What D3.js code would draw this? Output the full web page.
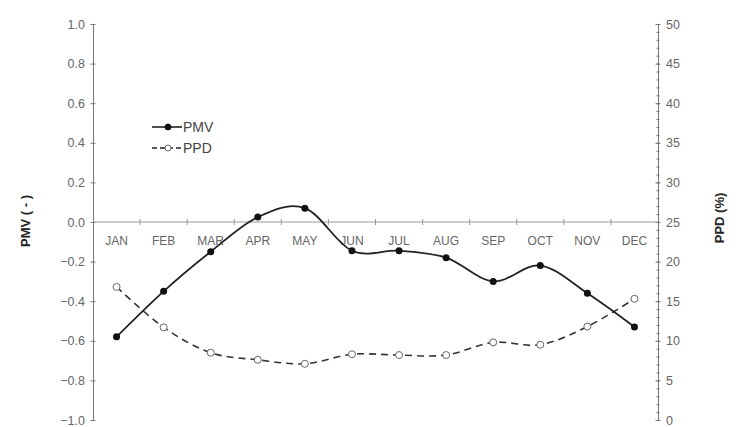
<!DOCTYPE html>
<html><head><meta charset="utf-8">
<script src="https://cdn.jsdelivr.net/npm/d3@7"></script>
<style>body{margin:0;background:#fff}svg{display:block}text{font-family:Arial,"Liberation Sans",sans-serif}</style>
</head><body><svg id="c" width="740" height="427"></svg>
<script>
const months = ["JAN","FEB","MAR","APR","MAY","JUN","JUL","AUG","SEP","OCT","NOV","DEC"];
const pmv = [-0.58,-0.35,-0.15,0.025,0.07,-0.145,-0.145,-0.18,-0.30,-0.22,-0.36,-0.53];
const ppd = [16.8,11.7,8.5,7.6,7.1,8.3,8.2,8.2,9.8,9.5,11.8,15.3];
const pmvTicks = [-1.0,-0.8,-0.6,-0.4,-0.2,0.0,0.2,0.4,0.6,0.8,1.0];
const ppdTicks = [0,5,10,15,20,25,30,35,40,45,50];

const svg = d3.select("#c");
const L = 93, R = 658, T = 24, B = 420;
const x = d3.scaleBand().domain(months).range([L, R]);
const yL = d3.scaleLinear().domain([-1, 1]).range([B, T]);
const yR = d3.scaleLinear().domain([0, 50]).range([B, T]);
const grey = "#777", txt = "#666";

// left axis
const ax = d3.axisLeft(yL).tickValues(pmvTicks).tickFormat(d3.format(".1f")).tickSize(5).tickSizeOuter(0);
const gL = svg.append("g").attr("transform", `translate(${L},0)`).call(ax);
gL.selectAll("line").attr("transform","translate(2.5,0)");
// right axis minor ticks
const gR = svg.append("g").attr("transform", `translate(${R},0)`)
  .call(d3.axisRight(yR).tickValues(d3.range(0, 51, 1)).tickFormat("").tickSize(3).tickSizeOuter(0));
gR.selectAll("line").attr("transform","translate(-1.5,0)");
const gR2 = svg.append("g").attr("transform", `translate(${R},0)`)
  .call(d3.axisRight(yR).tickValues(ppdTicks).tickSize(5).tickSizeOuter(0));
gR2.select(".domain").remove();
gR2.selectAll("line").attr("transform","translate(-2.5,0)");
[gL, gR, gR2].forEach(g => {
  g.selectAll(".domain").attr("stroke", grey);
  g.selectAll("line").attr("stroke", grey);
  g.selectAll("text").attr("fill", txt).style("font-size", "12.5px");
});

// category axis at zero
const gX = svg.append("g").attr("transform", `translate(0,${yL(0)})`);
gX.append("line").attr("x1", L).attr("x2", R).attr("stroke", "#999");
const bounds = months.map(m => x(m)).slice(1);
gX.selectAll(".tk").data(bounds).join("line").attr("x1", d => d).attr("x2", d => d)
  .attr("y1", -3).attr("y2", 3).attr("stroke", "#999");
gX.selectAll(".lb").data(months).join("text")
  .attr("x", d => x(d) + x.bandwidth() / 2).attr("y", 23).attr("text-anchor", "middle")
  .attr("fill", txt).style("font-size", "12px").text(d => d);

const cx = d => x(d) + x.bandwidth() / 2;
const curve = d3.curveCatmullRom.alpha(0);

// PPD dashed
svg.append("path").datum(ppd).attr("fill", "none").attr("stroke", "#333").attr("stroke-width", 1.6)
  .attr("stroke-dasharray", "7,5")
  .attr("d", d3.line().x((d, i) => cx(months[i])).y(d => yR(d)).curve(curve));
svg.selectAll(".pp").data(ppd).join("circle").attr("cx", (d, i) => cx(months[i])).attr("cy", d => yR(d))
  .attr("r", 3.5).attr("fill", "#fff").attr("stroke", "#666").attr("stroke-width", 1);

// PMV solid
svg.append("path").datum(pmv).attr("fill", "none").attr("stroke", "#222").attr("stroke-width", 1.8)
  .attr("d", d3.line().x((d, i) => cx(months[i])).y(d => yL(d)).curve(curve));
svg.selectAll(".pm").data(pmv).join("circle").attr("cx", (d, i) => cx(months[i])).attr("cy", d => yL(d))
  .attr("r", 3.5).attr("fill", "#111");

// axis titles
svg.append("text").attr("transform", "translate(30,221) rotate(-90)").attr("text-anchor", "middle")
  .style("font-size", "13px").style("font-weight", "bold").attr("fill", "#222").text("PMV ( - )");
svg.append("text").attr("transform", "translate(724,218) rotate(-90)").attr("text-anchor", "middle")
  .style("font-size", "13px").style("font-weight", "bold").attr("fill", "#222").text("PPD (%)");

// legend
const leg = [{n: "PMV", dash: null, fill: "#111", stroke: "#111", y: 127}, {n: "PPD", dash: "5,3", fill: "#fff", stroke: "#666", y: 148}];
leg.forEach(l => {
  svg.append("line").attr("x1", 152).attr("x2", 182).attr("y1", l.y).attr("y2", l.y)
    .attr("stroke", "#222").attr("stroke-width", 1.6).attr("stroke-dasharray", l.dash);
  svg.append("circle").attr("cx", 168).attr("cy", l.y).attr("r", 3).attr("fill", l.fill).attr("stroke", l.stroke);
  svg.append("text").attr("x", 183).attr("y", l.y + 5).style("font-size", "14px").attr("fill", "#444").text(l.n);
});
</script></body></html>
